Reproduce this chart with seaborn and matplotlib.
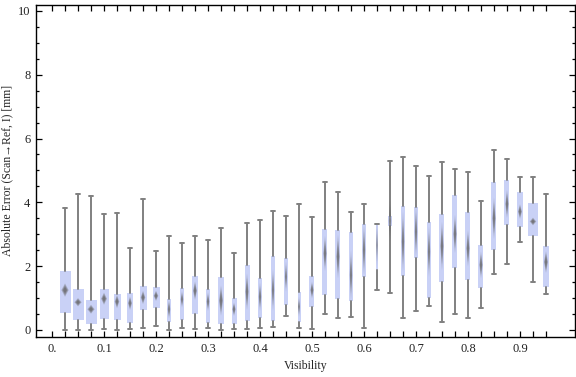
import numpy as np
import matplotlib
matplotlib.use("Agg")
import matplotlib.pyplot as plt
import seaborn as sns

# Summary statistics per visibility bin
visibility = [0.025, 0.05, 0.075, 0.1, 0.125, 0.15, 0.175, 0.2, 0.225, 0.25,
              0.275, 0.3, 0.325, 0.35, 0.375, 0.4, 0.425, 0.45, 0.475, 0.5,
              0.525, 0.55, 0.575, 0.6, 0.625, 0.65, 0.675, 0.7, 0.725, 0.75,
              0.775, 0.8, 0.825, 0.85, 0.875, 0.9, 0.925, 0.95]
whis_lo = [0, 0, 0, 0.02, 0, 0.02, 0.05, 0.12, 0, 0.05, 0.02, 0.05, 0, 0.02, 0.02,
           0.05, 0.08, 0.43, 0.05, 0.02, 0.49, 0.37, 0.4, 0.05, 1.24, 1.15, 0.37,
           0.59, 0.76, 0.24, 0.49, 0.37, 0.68, 1.75, 2.06, 2.75, 1.5, 1.12]
q1 = [0.54, 0.32, 0.2, 0.35, 0.31, 0.23, 0.63, 0.7, 0.26, 0.32, 0.51, 0.23, 0.2,
      0.2, 0.29, 0.39, 0.29, 0.79, 0.26, 0.73, 1.11, 0.98, 0.92, 1.67, 1.88, 3.26,
      1.7, 2.27, 1.01, 1.51, 1.95, 1.58, 1.33, 2.5, 3.3, 3.24, 2.96, 1.36]
median = [1.25, 0.87, 0.65, 0.98, 0.89, 0.84, 1.02, 1.07, 0.65, 0.96, 1.23, 0.89,
          0.92, 0.65, 1.2, 1.04, 1.25, 1.67, 0.73, 1.25, 2.4, 2.3, 1.72, 2.51, 2.66,
          3.42, 2.77, 3.08, 2.45, 2.63, 3.01, 2.56, 2.04, 3.5, 3.95, 3.71, 3.4, 2.13]
q3 = [1.85, 1.28, 0.93, 1.28, 1.13, 1.16, 1.38, 1.35, 0.97, 1.32, 1.69, 1.28, 1.66,
      1.0, 2.03, 1.63, 2.31, 2.26, 1.19, 1.69, 3.17, 3.13, 3.06, 3.32, 3.31, 3.57,
      3.89, 3.86, 3.39, 3.64, 4.23, 3.7, 2.65, 4.64, 4.7, 4.33, 3.98, 2.62]
whis_hi = [3.81, 4.25, 4.19, 3.63, 3.66, 2.56, 4.1, 2.47, 2.94, 2.72, 2.94, 2.82,
           3.19, 2.4, 3.34, 3.44, 3.72, 3.56, 3.94, 3.53, 4.63, 4.32, 3.69, 3.94,
           3.31, 5.3, 5.41, 5.13, 4.82, 5.26, 5.04, 4.94, 4.03, 5.63, 5.35, 4.79,
           4.79, 4.25]
# half-height of the median confidence diamond
notch = [0.21, 0.13, 0.14, 0.19, 0.21, 0.21, 0.21, 0.16, 0.29, 0.26, 0.29, 0.29,
         0.47, 0.21, 0.57, 0.44, 0.65, 0.47, 0.31, 0.26, 0.55, 0.68, 0.78, 0.78,
         0.68, 0.63, 0.94, 0.78, 0.78, 0.76, 0.6, 0.57, 0.42, 0.65, 0.44, 0.23,
         0.12, 0.34]
# relative sample size (sets box width)
weight = [11, 11, 11, 9, 7, 6, 7, 7, 4, 4, 6, 4.3, 6, 5, 5, 4, 3.7, 3.3, 3, 5, 5,
          5, 4, 4, 2, 4, 4.3, 4, 4, 5, 5, 5, 5, 5, 5, 6, 10, 6]

x_ticks = [0.0, 0.1, 0.2, 0.3, 0.4, 0.5, 0.6, 0.7, 0.8, 0.9]
x_labels = ["0.", "0.1", "0.2", "0.3", "0.4", "0.5", "0.6", "0.7", "0.8", "0.9"]
y_ticks = [0, 2, 4, 6, 8, 10]

sns.set_theme(style="ticks")
plt.rcParams["font.family"] = ["Liberation Serif", "DejaVu Serif"]

box_color = "#C9D1F6"
line_color = "#808080"
width_scale = 1 / 520

fig = plt.figure(figsize=(5.76, 3.77), dpi=100)
ax = fig.add_axes([36 / 576, 40 / 377, 539 / 576, 332.5 / 377])

stats = []
for i in range(len(visibility)):
    stats.append({"med": median[i], "q1": q1[i], "q3": q3[i],
                  "whislo": whis_lo[i], "whishi": whis_hi[i], "fliers": []})

widths = [w * width_scale for w in weight]
ax.bxp(stats, positions=visibility, widths=widths, patch_artist=True,
       showfliers=False, capwidths=0.009,
       boxprops=dict(facecolor=box_color, edgecolor="none", linewidth=0),
       whiskerprops=dict(color=line_color, linewidth=1.4),
       capprops=dict(color=line_color, linewidth=1.4),
       medianprops=dict(visible=False), manage_ticks=False, zorder=2)

# blurred median diamonds
for x, m, h, w in zip(visibility, median, notch, widths):
    for scale, alpha in [(1.0, 0.35), (0.75, 0.45), (0.5, 0.6)]:
        hw = 0.33 * w * scale
        hh = h * scale
        ax.fill([x - hw, x, x + hw, x], [m, m + hh, m, m - hh],
                color="#666666", alpha=alpha, linewidth=0, zorder=3)

ax.set_xlim(-0.0308, 1.0058)
ax.set_ylim(-0.22, 10.2)
ax.set_xticks(visibility + [0.0], minor=True)
ax.set_xticks(x_ticks)
ax.set_xticklabels(x_labels)
ax.set_yticks(y_ticks)
ax.set_yticks(np.arange(0, 10.5, 0.5), minor=True)

for side in ["top", "right", "left", "bottom"]:
    ax.spines[side].set_visible(True)
    ax.spines[side].set_color("black")
    ax.spines[side].set_linewidth(1.0)

ax.tick_params(which="both", direction="in", top=True, right=True,
               color="black", width=0.9, labelsize=9, labelcolor="#222222")
ax.tick_params(which="major", length=4, pad=4)
ax.tick_params(which="minor", length=4)
ax.tick_params(axis="y", which="minor", length=2.5)

ax.set_xlabel("Visibility", fontsize=8.5, labelpad=4)
ax.set_ylabel("Absolute Error (Scan\u2192Ref, I) [mm]", fontsize=8.5)
ax.yaxis.set_label_coords(-0.042, 0.5)

fig.savefig("out.png", dpi=100)
